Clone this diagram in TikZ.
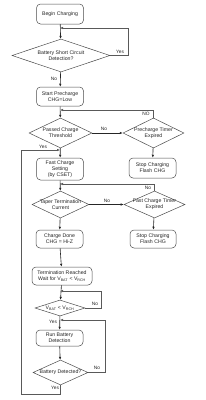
\documentclass[tikz,border=0pt]{standalone}
\usepackage{fontspec}
\setmainfont{Liberation Sans}
\usetikzlibrary{shapes.geometric,arrows.meta}
\newcommand{\vbr}{V\textsubscript{BAT} < V\textsubscript{RCH}}
\begin{document}
\begin{tikzpicture}[x=1pt,y=-1pt,
  every node/.style={font=\fontsize{5.2}{5.9}\selectfont, text=black!85},
  procbox/.style={draw=black!70, line width=0.5pt, rounded corners=4pt, minimum width=47pt, minimum height=19pt, inner sep=0pt, align=center},
  decis/.style={draw=black!70, line width=0.5pt, diamond, inner sep=0pt},
  flow/.style={draw=black!85, line width=0.6pt, -{Latex[length=3pt,width=2.5pt]}},
  back/.style={draw=black!65, line width=0.5pt, -{Latex[length=3pt,width=2.5pt]}},
  lbl/.style={font=\fontsize{4.8}{5.5}\selectfont, inner sep=0.5pt}]
\useasboundingbox (0,0) rectangle (206,400);
\fill[white] (0,0) rectangle (206,400);

\node[procbox, minimum height=20pt] (b1) at (60,14) {Begin Charging};
\node[decis, minimum width=98pt, minimum height=33pt, label={[align=center,inner sep=0pt]center:Battery Short Circuit\\Detection?}] (d1) at (61,55.5) {};
\node[procbox] (b2) at (60,96.5) {Start Precharge\\CHG=Low};
\node[decis, minimum width=63pt, minimum height=30pt, label={[align=center,inner sep=0pt]center:Passed Charge\\Threshold}] (d2) at (60.5,133) {};
\node[decis, minimum width=61pt, minimum height=30pt, label={[align=center,inner sep=0pt]center:Precharge Timer\\Expired}] (d3) at (153.5,133) {};
\node[procbox, minimum height=20pt] (b3) at (152.5,168) {Stop Charging\\Flash CHG};
\node[procbox, minimum height=22pt] (b4) at (60,169) {Fast Charge\\Setting\\(by CSET)};
\node[decis, minimum width=57pt, minimum height=27pt, label={[align=center,inner sep=0pt]center:Taper Termination\\Current}] (d4) at (60.5,204.5) {};
\node[decis, minimum width=61pt, minimum height=27pt, label={[align=center,inner sep=0pt]center:Fast Charge Timer\\Expired}] (d5) at (154.5,204.5) {};
\node[procbox, minimum height=18pt, minimum width=46pt] (b5) at (153,239) {Stop Charging\\Flash CHG};
\node[procbox, minimum height=18pt] (b6) at (59.5,239) {Charge Done\\CHG = Hi-Z};
\node[procbox, minimum height=18pt, minimum width=60pt] (b7) at (62,276) {Termination Reached\\Wait for \vbr};
\node[decis, minimum width=50pt, minimum height=16pt, label={[inner sep=0pt]center:\vbr}] (d6) at (60,308) {};
\node[procbox, minimum height=16pt] (b8) at (59.5,338) {Run Battery\\Detection};
\node[decis, minimum width=55pt, minimum height=25pt, label={[inner sep=0pt]center:Battery Detected?}] (d7) at (60.5,372.5) {};

\coordinate (j1) at (60,28);
\coordinate (j2) at (60,110);
\coordinate (j3) at (60,150);
\coordinate (j4) at (60,184);
\coordinate (j5) at (60,291);
\coordinate (j6) at (60,320);

\draw[flow] (b1) -- (d1);
\draw[back] (d1.east) -- (128,55.5) -- (128,28) -- (j1);
\node[lbl] at (120,52) {Yes};
\draw[flow] (d1) -- (b2);
\node[lbl] at (54,79) {No};

\draw[flow] (b2) -- (d2);
\draw[back] (d3.north) -- (153.5,110) -- (j2);
\node[lbl] at (146,114) {NO};
\draw[flow] (d2) -- (d3);
\node[lbl] at (104,128.5) {No};
\draw[flow] (d3) -- (b3);
\draw[flow] (d2) -- (b4);
\node[lbl] at (43,147) {Yes};
\draw[back] (d7.south) -- (60.5,394) -- (21,394) -- (21,150) -- (j3);

\draw[flow] (b4) -- (d4);
\draw[back] (d5.north) -- (154.5,184) -- (j4);
\node[lbl] at (148,187.5) {No};
\draw[flow] (d4) -- (d5);
\node[lbl] at (107,200.5) {No};
\draw[flow] (d5) -- (b5);
\draw[flow] (d4) -- (b6);
\draw[flow] (b6) -- (b7);

\draw[flow] (b7) -- (d6);
\draw[back] (d6.east) -- (101,308) -- (101,291) -- (j5);
\node[lbl] at (95,303.5) {No};
\draw[flow] (d6) -- (b8);
\node[lbl] at (53,322) {Yes};
\draw[back] (d7.east) -- (105,372.5) -- (105,320) -- (j6);
\node[lbl] at (97,368) {No};
\draw[flow] (b8) -- (d7);
\node[lbl] at (55,387.5) {Yes};
\end{tikzpicture}
\end{document}
